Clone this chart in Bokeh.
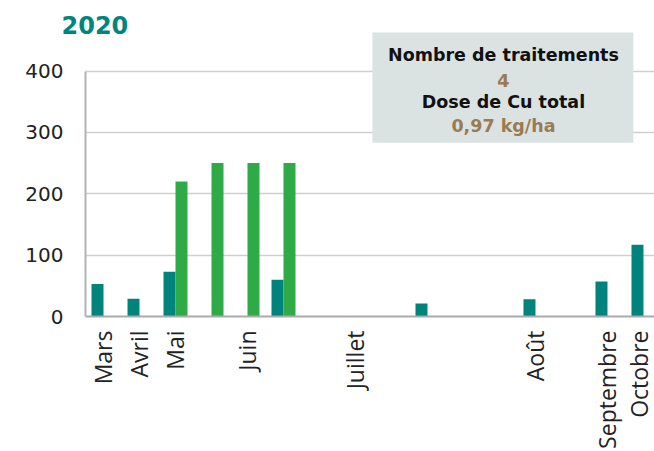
import math
from bokeh.plotting import figure
from bokeh.models import Range1d, ColumnDataSource, BoxAnnotation, Label
from bokeh.transform import dodge
from bokeh.embed import file_html
from bokeh.resources import INLINE

# ---- data ----
categories = ["Mars", "Avril", "Mai", "", "Juin", "", "", "Juillet", "", "", "", "", "Août", "", "Septembre", "Octobre"]
pluie = [53, 29, 73, 0, 0, 60, 0, 0, 0, 21, 0, 0, 28, 0, 57, 117]
dose_cu = [0, 0, 220, 250, 250, 250, 0, 0, 0, 0, 0, 0, 0, 0, 0, 0]
y_ticks = [0, 100, 200, 300, 400]
title_text = "2020"
box_lines = ["Nombre de traitements", "4", "Dose de Cu total", "0,97 kg/ha"]

TEAL = "#00837d"
GREEN = "#2eaa47"
BROWN = "#9a7b55"

pos = list(range(len(categories)))
src = ColumnDataSource(dict(x=pos, pluie=pluie, cu=dose_cu))

T = 32  # frame top (px)
B = 317  # frame bottom (px)
PX = 0.61575
y_end = (B - T) / PX

p = figure(width=654, height=451, output_backend="svg", toolbar_location=None,
           x_range=Range1d(-0.5, 15.306), y_range=Range1d(0, y_end),
           min_border_left=85, min_border_right=0, min_border_bottom=451 - B, min_border_top=T)
p.outline_line_color = None
p.background_fill_color = "white"

p.title.text = title_text
p.title.text_font = "DejaVu Sans"
p.title.text_font_style = "bold"
p.title.text_font_size = "24px"
p.title.text_color = "#00857e"
p.title.align = "left"
p.title.offset = -24
p.title.standoff = -3

p.vbar(x=dodge("x", -1/6, range=p.x_range), top="pluie", width=1/3, source=src,
       fill_color=TEAL, line_color=None)
p.vbar(x=dodge("x", 1/6, range=p.x_range), top="cu", width=1/3, source=src,
       fill_color=GREEN, line_color=None)

# axes
p.xaxis.ticker = pos
p.xaxis.major_label_overrides = {i: c for i, c in enumerate(categories)}
p.xaxis.major_label_orientation = math.pi / 2
p.xaxis.major_label_text_font = "Open Sans"
p.xaxis.major_label_text_font_size = "23px"
p.xaxis.major_label_text_color = "#222222"
p.xaxis.major_label_standoff = 14
p.xaxis.major_tick_out = 0
p.xaxis.major_tick_in = 0
p.xaxis.minor_tick_out = 0
p.xaxis.major_tick_line_color = None
p.xaxis.minor_tick_line_color = None
p.xaxis.axis_line_color = "#aaaaaa"
p.xaxis.axis_line_width = 2

p.yaxis.ticker = y_ticks
p.yaxis.bounds = (0, 400)
p.yaxis.major_label_text_font = "DejaVu Sans"
p.yaxis.major_label_text_font_size = "20px"
p.yaxis.major_label_text_color = "#222222"
p.yaxis.major_label_standoff = 22
p.yaxis.major_tick_out = 0
p.yaxis.minor_tick_out = 0
p.yaxis.major_tick_line_color = None
p.yaxis.minor_tick_line_color = None
p.yaxis.axis_line_color = "#b3b3b3"
p.yaxis.axis_line_width = 2

p.xgrid.grid_line_color = None
p.ygrid.grid_line_color = "#cfcfcf"
p.ygrid.grid_line_width = 1.5

# annotation box
box = BoxAnnotation(left=7.47, right=14.72, bottom=283, top=470,
                    fill_color="#dbe3e2", fill_alpha=1, line_color=None)
p.add_layout(box)
ys = [425.8, 385.0, 349.5, 310.6]
colors = ["#111111", BROWN, "#111111", BROWN]
for t, yv, c in zip(box_lines, ys, colors):
    p.add_layout(Label(x=11.11, y=yv, text=t, text_align="center", text_baseline="middle",
                       text_font="DejaVu Sans", text_font_style="bold",
                       text_font_size="17.5px", text_color=c))

open("out.html", "w").write(file_html(p, INLINE))
